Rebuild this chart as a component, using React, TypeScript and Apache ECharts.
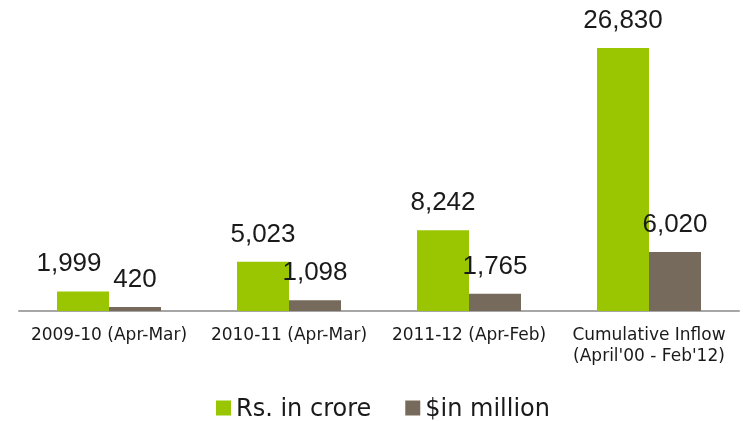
import React, { useEffect, useRef } from "react";
import * as echarts from "echarts";

const categories = [
  "2009-10 (Apr-Mar)",
  "2010-11 (Apr-Mar)",
  "2011-12 (Apr-Feb)",
  "Cumulative Inflow\n(April'00 - Feb'12)",
];
const rsCrore = [1999, 5023, 8242, 26830];
const usdMillion = [420, 1098, 1765, 6020];
const seriesNames = ["Rs. in crore", "$in million"];

const FONT = "'DejaVu Sans', sans-serif";
const LABEL_FONT = "'Liberation Sans', sans-serif";

export default function App() {
  const ref = useRef<HTMLDivElement>(null);
  useEffect(() => {
    if (!ref.current) return;
    const chart = echarts.init(ref.current, undefined, { renderer: "svg" });
    const fmt = (p: any) => Number(p.value).toLocaleString("en-US");
    const label = {
      show: true,
      position: "top" as const,
      distance: 16,
      fontSize: 26,
      color: "#1a1a1a",
      fontFamily: LABEL_FONT,
      formatter: fmt,
    };
    chart.setOption({
      animation: false,
      textStyle: { fontFamily: FONT },
      grid: { left: 19, right: 4, top: 17, bottom: 110, containLabel: false },
      legend: {
        top: 396,
        left: 216,
        padding: 0,
        itemWidth: 15,
        itemHeight: 15,
        itemGap: 34,
        icon: "rect",
        textStyle: {
          fontSize: 24,
          lineHeight: 24,
          color: "#1a1a1a",
          fontFamily: FONT,
        },
        data: seriesNames,
      },
      xAxis: {
        type: "category",
        data: categories,
        axisLine: { lineStyle: { color: "#a6a6a6", width: 2 } },
        axisTick: { show: false },
        axisLabel: {
          interval: 0,
          hideOverlap: false,
          fontSize: 17,
          color: "#1a1a1a",
          margin: 12,
          lineHeight: 21,
          fontFamily: FONT,
        },
      },
      yAxis: {
        type: "value",
        min: 0,
        max: 30000,
        show: false,
        splitLine: { show: false },
      },
      series: [
        {
          name: seriesNames[0],
          type: "bar",
          data: rsCrore.map((v, i) =>
            i === 0 ? { value: v, label: { offset: [-14, 0] } } : v
          ),
          barWidth: 52,
          barGap: "0%",
          itemStyle: { color: "#99c600" },
          label,
        },
        {
          name: seriesNames[1],
          type: "bar",
          data: usdMillion,
          barWidth: 52,
          barGap: "0%",
          itemStyle: { color: "#766a5c" },
          label,
        },
      ],
    });
    return () => chart.dispose();
  }, []);
  return (
    <div
      ref={ref}
      style={{ position: "fixed", left: 0, top: 0, width: 743, height: 421 }}
    />
  );
}
